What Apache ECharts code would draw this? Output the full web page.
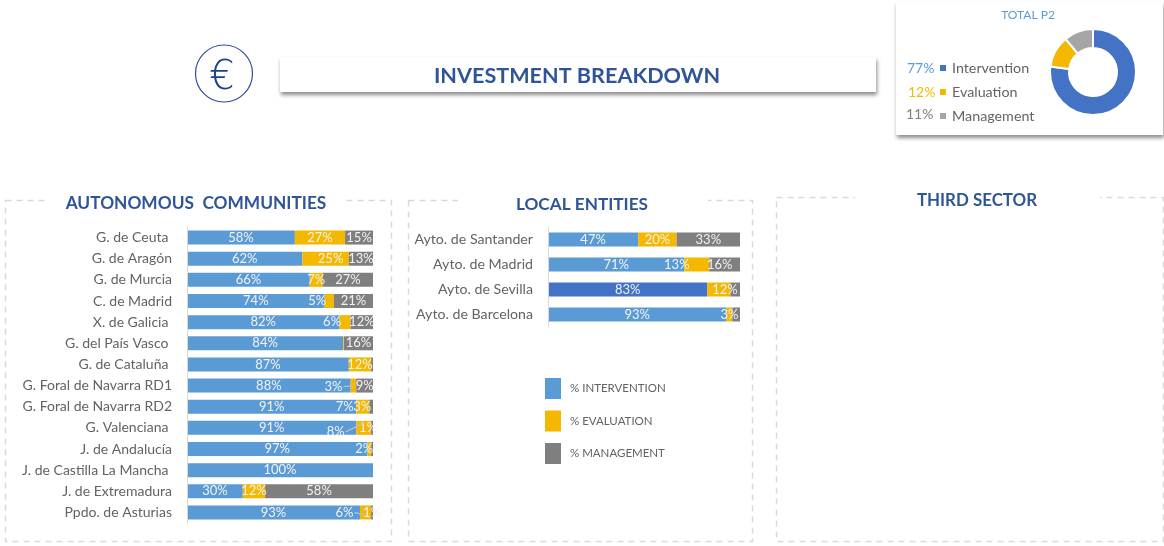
<!DOCTYPE html>
<html><head><meta charset="utf-8">
<style>html,body{margin:0;padding:0;background:#fff}#c{width:1164px;height:546px}</style>
<script src="https://cdn.jsdelivr.net/npm/echarts@6/dist/echarts.min.js"></script>
</head><body><div id="c"></div>
<script>
const communities = ['G. de Ceuta ','G. de Aragón','G. de Murcia','C. de Madrid','X. de Galicia ','G. del País Vasco ','G. de Cataluña ','G. Foral de Navarra RD1','G. Foral de Navarra RD2','G. Valenciana ','J. de Andalucía','J. de Castilla La Mancha ','J. de Extremadura','Ppdo. de Asturias'];
const commIntervention = [58,62,66,74,82,84,87,88,91,91,97,100,30,93];
const commEvaluation   = [27,25,7,5,6,0.4,12,3,7,8,2,0,12,6];
const commManagement   = [15,13,27,21,12,16,1,9,3,1,1,0,58,1];
const entities = ['Ayto. de Santander','Ayto. de Madrid','Ayto. de Sevilla','Ayto. de Barcelona'];
const entIntervention = [47,71,83,93];
const entEvaluation   = [20,13,12,3];
const entManagement   = [33,16,5,4];
const seriesNames = ['% INTERVENTION','% EVALUATION','% MANAGEMENT'];
const totalNames = ['Intervention','Evaluation','Management'];
const totalValues = [77,12,11];

const BLUE='#5B9BD5', YEL='#F4B800', GRAY='#7F7F7F', DARK='#4472C4', NAVY='#2F5597', LGRAY='#A5A5A5';
const FONT='Lato';
const commShift = {
  1:{1:[5,0],3:[-12,0],4:[-13,0],7:[-20,1],8:[-18,0],9:[-28,4],10:[-5,0],13:[-21,0]},
  2:{8:[-9,0],9:[-4,0]}
};
const commHidden = {1:[5,11],2:[6,10,11]};
const commLeaderRows = [[7,0],[9,-5],[13,3]]; // row, vertical offset of the leader's end
const entShift = {1:{1:[-20,0],2:[6,0]},2:{1:[-5,0]}};
const entHidden = {2:[2,3]};

function stack(name,vals,color,gi,hidden,shift){
  const si = seriesNames.indexOf(name);
  return {
    type:'bar',name,stack:'s'+gi,xAxisIndex:gi,yAxisIndex:gi,barWidth:14,
    itemStyle:{color},
    data:vals.map((v,i)=>{
      const d={value:v};
      if(gi===1&&si===0&&i===2) d.itemStyle={color:DARK};
      return d;
    }),
    label:{show:true,position:'inside',color:'#F2F2F2',fontFamily:FONT,fontSize:13,
      formatter:p=>{
        if(p.value===0||(hidden[si]||[]).includes(p.dataIndex)) return '';
        return p.value+'%';
      }},
    labelLayout:p=>{
      const s=(shift[si]||{})[p.dataIndex];
      return s?{dx:s[0],dy:s[1],hideOverlap:false}:{hideOverlap:false};
    },
    z:2
  };
}
function catAxis(data,gi){
  return {type:'category',gridIndex:gi,data,inverse:true,z:3,offset:1,
    axisLine:{show:true,lineStyle:{color:'#D9D9D9',width:1}},axisTick:{show:false},
    axisLabel:{color:'#636363',fontFamily:FONT,fontSize:gi===0?14:14.2,margin:14,interval:0}};
}
function valAxis(gi){
  return {type:'value',gridIndex:gi,min:0,max:100,show:false,splitLine:{show:false}};
}
function frame(x,y,w,h,gx,gw){
  return [
    {type:'rect',z:1,shape:{x,y,width:w,height:h},style:{fill:'#fff',stroke:'#D9D9D9',lineWidth:1.5,lineDash:[6,5]}},
    {type:'rect',z:1,shape:{x:gx,y:y-12,width:gw,height:24},style:{fill:'#fff'}}
  ];
}
function title(text,cx,cy,size){
  return {type:'text',z:3,style:{text,x:cx,y:cy,textAlign:'center',textVerticalAlign:'middle',fill:NAVY,
    font:'bold '+size+'px '+FONT}};
}
const pctColors=[BLUE,YEL,GRAY], pctX=[907,908,906], pctY=[68,92,114];

const option={
  animation:false,backgroundColor:'#fff',
  grid:[
    {left:187,width:186,top:227,height:296},
    {left:548,width:192,top:227,height:100}
  ],
  xAxis:[valAxis(0),valAxis(1)],
  yAxis:[catAxis(communities,0),catAxis(entities,1)],
  legend:[
    {show:true,orient:'vertical',left:545,top:378,padding:0,itemWidth:16,itemHeight:21,itemGap:11.5,icon:'rect',
     data:seriesNames,selectedMode:false,textStyle:{color:'#636363',fontFamily:FONT,fontSize:11.5,padding:[0,0,0,4]},itemStyle:{borderWidth:0}},
    {show:true,orient:'vertical',left:938,top:61,itemWidth:8,itemHeight:8,itemGap:10,icon:'rect',
     data:totalNames,selectedMode:false,textStyle:{color:'#636363',fontFamily:FONT,fontSize:14.3},padding:0}
  ],
  series:[
    stack(seriesNames[0],commIntervention,BLUE,0,commHidden,commShift),
    stack(seriesNames[1],commEvaluation,YEL,0,commHidden,commShift),
    stack(seriesNames[2],commManagement,GRAY,0,commHidden,commShift),
    stack(seriesNames[0],entIntervention,BLUE,1,entHidden,entShift),
    stack(seriesNames[1],entEvaluation,YEL,1,entHidden,entShift),
    stack(seriesNames[2],entManagement,GRAY,1,entHidden,entShift),
    {type:'pie',center:[1093,72],radius:[24,43],startAngle:90,clockwise:true,z:5,silent:true,
     label:{show:false},labelLine:{show:false},
     itemStyle:{borderColor:'#fff',borderWidth:2},
     data:totalNames.map((n,i)=>({name:n,value:totalValues[i],itemStyle:{color:[DARK,YEL,LGRAY][i]}}))}
  ],
  graphic:{elements:[
    ...frame(5.5,200.5,386,341,46,298),
    ...frame(408.5,200.5,344,341,458,250),
    ...frame(776.5,197.5,387,344,855,245),
    {type:'rect',z:1,shape:{x:280,y:57,width:596,height:35},
     style:{fill:'#fff',shadowBlur:4,shadowColor:'rgba(0,0,0,.45)',shadowOffsetX:1,shadowOffsetY:3}},
    {type:'rect',z:1,shape:{x:896,y:2,width:267,height:133},
     style:{fill:'#fff',shadowBlur:4,shadowColor:'rgba(0,0,0,.45)',shadowOffsetX:1,shadowOffsetY:3}},
    {type:'circle',z:3,shape:{cx:224,cy:73.5,r:28.5},style:{fill:'#fff',stroke:'#2F4D9B',lineWidth:1.2}},
    {type:'text',z:4,style:{text:'€',x:222,y:79,textAlign:'center',textVerticalAlign:'middle',fill:'#1F3F8F',font:'40px "DejaVu Sans Light","DejaVu Sans"'}},
    title('INVESTMENT BREAKDOWN',577,76,21.6),
    title('AUTONOMOUS  COMMUNITIES',196,203,17.3),
    title('LOCAL ENTITIES',582,204,17.2),
    title('THIRD SECTOR',977,201,16.9),
    {type:'text',z:4,style:{text:'TOTAL P2',x:1028,y:15,textAlign:'center',textVerticalAlign:'middle',fill:BLUE,font:'12px '+FONT}},
    ...totalValues.map((v,i)=>({type:'text',z:4,style:{text:v+'%',x:pctX[i],y:pctY[i],textVerticalAlign:'middle',fill:pctColors[i],font:'14px '+FONT}}))
  ]}
};
const chart=echarts.init(document.getElementById('c'));
chart.setOption(option);
// leader lines for the labels moved off their segments, placed through the chart's own scales
const leaderLines=commLeaderRows.map(([row,endDy])=>{
  const s=commShift[1][row];
  const pt=chart.convertToPixel({seriesIndex:1},[commIntervention[row]+commEvaluation[row]/2,row]);
  return {type:'line',z:100,zlevel:1,
    shape:{x1:pt[0]+s[0]+10,y1:pt[1]+s[1],x2:pt[0],y2:pt[1]+endDy},
    style:{stroke:'#BFBFBF',lineWidth:1.2}};
});
chart.setOption({graphic:{elements:option.graphic.elements.concat(leaderLines)}},{replaceMerge:['graphic']});
</script></body></html>
